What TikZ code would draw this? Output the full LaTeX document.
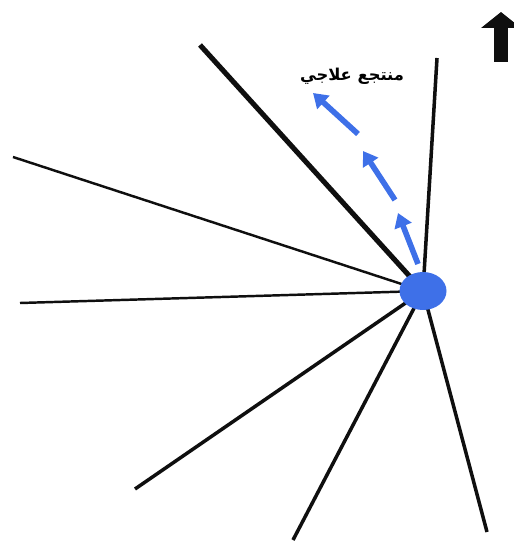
\documentclass[tikz,border=0pt]{standalone}
\usepackage{fontspec}
\usetikzlibrary{arrows.meta,shapes.geometric}
\TeXXeTstate=1
\newfontfamily\arabicfont[Script=Arabic]{DejaVu Sans}
\definecolor{hubblue}{RGB}{62,112,232}
\definecolor{spokeblack}{RGB}{15,15,15}

\begin{document}
\begin{tikzpicture}[
  x=0.02cm,y=-0.02cm,
  spoke/.style={draw=spokeblack,line width=2pt},
  thin spoke/.style={draw=spokeblack,line width=1.4pt},
  thick spoke/.style={draw=spokeblack,line width=2.9pt},
  hub/.style={ellipse,fill=hubblue,minimum width=0.94cm,minimum height=0.76cm,inner sep=0pt},
  flow/.style={hubblue,line width=3.2pt,-{Triangle[width=10pt,length=8pt]}},
  north/.style={spokeblack,line width=8.2pt,-{Triangle[width=22pt,length=9pt]}},
  lbl/.style={font=\arabicfont\bfseries\fontsize{9.3}{11}\selectfont,inner sep=1pt},
  ]
  \useasboundingbox (0,0) rectangle (513,543);
  \coordinate (c)  at (423,291);
  \coordinate (s1) at (200,45);
  \coordinate (s2) at (437,58);
  \coordinate (s3) at (13,157);
  \coordinate (s4) at (20,303);
  \coordinate (s5) at (135,489);
  \coordinate (s6) at (293,540);
  \coordinate (s7) at (487,532);
  \draw[thick spoke] (c) -- (s1);
  \draw[spoke] (c) -- (s2);
  \draw[thin spoke] (c) -- (s3);
  \draw[thin spoke] (c) -- (s4);
  \foreach \s in {s5,s6,s7}
    \draw[spoke] (c) -- (\s);
  \node[hub] (h) at (c) {};
  \coordinate (t1) at (418,264);
  \coordinate (e1) at (398,213);
  \coordinate (t2) at (395,200);
  \coordinate (e2) at (363,151);
  \coordinate (t3) at (358,134);
  \coordinate (e3) at (313,93);
  \foreach \i in {1,2,3}
    \draw[flow] (t\i) -- (e\i);
  \node[lbl] (spa) at (352,76) {\beginR منتجع علاجي\endR};
  \coordinate (n0) at (501,62);
  \coordinate (n1) at (501,12);
  \draw[north] (n0) -- (n1);
\end{tikzpicture}
\end{document}
